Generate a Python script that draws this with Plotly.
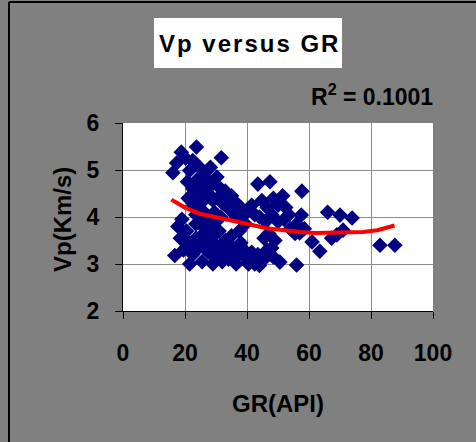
import plotly.graph_objects as go

# ---- data ----
gr = [16.1, 17.3, 18.8, 20.2, 21.5, 23.7, 22.5, 24.8, 26.5, 28.2, 31.7, 20.8, 22.5, 24.0, 25.5, 27.0,
      28.8, 30.3, 31.5, 33.0, 21.0, 22.8, 24.2, 26.0, 27.5, 29.0, 30.5, 32.0, 33.5, 35.0, 36.5, 38.0,
      34.5, 23.5, 25.5, 27.5, 29.5, 31.5, 36.0, 38.5, 40.0, 41.5, 42.5, 39.5,
      43.5, 47.4, 44.8, 46.5, 48.5, 51.5, 50.0, 52.5, 44.0, 46.0, 48.0, 50.0, 52.0, 53.5, 57.7, 57.5,
      56.0, 54.0, 57.0, 58.5, 55.5, 47.0, 49.0, 48.0, 45.5,
      66.0, 70.0, 73.9, 71.0, 67.3, 69.0, 61.0, 63.5, 82.9, 87.7,
      16.7, 17.7, 18.5, 19.5, 20.5, 21.5, 21.5, 22.5, 23.5, 23.5, 24.5, 25.5, 26.0, 26.5, 27.5, 28.5,
      28.5, 29.0, 29.5, 30.0, 31.0, 31.5, 32.0, 33.0, 33.5, 34.0, 35.0, 35.5, 36.5, 37.0, 37.5, 38.0,
      39.0, 40.0, 40.5, 41.5, 42.5, 43.5, 44.0, 45.5, 46.5, 48.5, 50.6, 56.0, 19.0, 25.0, 30.0]
vp = [4.94, 5.15, 5.38, 5.25, 4.99, 5.49, 5.20, 5.05, 4.95, 5.06, 5.26, 4.75, 4.60, 4.80, 4.65, 4.80,
      4.70, 4.85, 4.60, 4.55, 4.40, 4.25, 4.45, 4.35, 4.50, 4.35, 4.40, 4.30, 4.35, 4.45, 4.30, 4.20,
      4.15, 4.05, 4.15, 4.00, 4.10, 4.00, 4.05, 4.00, 4.15, 4.25, 4.05, 3.85,
      4.70, 4.75, 4.35, 4.20, 4.40, 4.45, 4.25, 4.20, 4.00, 3.90, 4.05, 3.90, 3.95, 4.05, 4.55, 4.04,
      3.85, 3.75, 3.66, 3.75, 3.65, 3.65, 3.50, 3.34, 3.55,
      4.10, 4.04, 3.98, 3.72, 3.55, 3.62, 3.47, 3.27, 3.40, 3.40,
      3.18, 3.80, 3.55, 3.30, 3.70, 3.45, 3.00, 3.20, 3.85, 3.55, 3.35, 3.05, 3.65, 3.45, 3.25, 3.80,
      3.55, 3.00, 3.15, 3.40, 3.70, 3.25, 3.05, 3.50, 3.30, 3.10, 3.60, 3.35, 3.00, 3.20, 3.70, 3.45,
      3.30, 3.10, 3.00, 3.25, 3.00, 3.20, 2.97, 3.10, 3.30, 3.15, 3.04, 2.98, 3.95, 3.85, 3.90]

trend_x = [15.6, 20.0, 24.7, 30.0, 35.5, 41.0, 46.2, 52.0, 57.0, 62.0, 67.7, 72.0, 77.4, 82.0, 87.6]
trend_y = [4.37, 4.20, 4.07, 4.00, 3.93, 3.84, 3.76, 3.71, 3.68, 3.66, 3.66, 3.66, 3.68, 3.72, 3.82]

x_ticks = [0, 20, 40, 60, 80, 100]
y_ticks = [2, 3, 4, 5, 6]

FONT = "Liberation Sans, Arial, sans-serif"

fig = go.Figure()
fig.add_trace(go.Scatter(x=gr, y=vp, mode="markers",
                         marker=dict(symbol="diamond", size=12, color="#000080",
                                     line=dict(width=0)),
                         showlegend=False))
fig.add_trace(go.Scatter(x=trend_x, y=trend_y, mode="lines",
                         line=dict(color="#ff0000", width=4),
                         showlegend=False))

L, R, T, B = 123, 43, 123, 131
PW, PH = 476 - L - R, 442 - T - B

def px(xp):
    return (xp - L) / PW

def py(yp):
    return (442 - B - yp) / PH

fig.update_layout(
    width=476, height=442,
    margin=dict(l=L, r=R, t=T, b=B),
    paper_bgcolor="#808080", plot_bgcolor="#ffffff",
    font=dict(family=FONT, color="#000000"),
    xaxis=dict(range=[0, 100], tickvals=x_ticks, ticktext=[f"<b>{v}</b>" for v in x_ticks],
               showgrid=True, gridcolor="#8c8c8c", gridwidth=1,
               showline=True, linecolor="#000000", linewidth=1, ticks="outside", ticklen=7,
               tickcolor="#000000", zeroline=False,
               tickfont=dict(size=23, family=FONT, color="#000000"), ticklabelstandoff=14),
    yaxis=dict(range=[2, 6], tickvals=y_ticks, ticktext=[f"<b>{v}</b>" for v in y_ticks],
               showgrid=True, gridcolor="#8c8c8c", gridwidth=1,
               showline=True, linecolor="#000000", linewidth=1, ticks="outside", ticklen=7,
               tickcolor="#000000", zeroline=False,
               tickfont=dict(size=23, family=FONT, color="#000000"), ticklabelstandoff=11),
    shapes=[
        dict(type="line", xref="paper", yref="paper", x0=px(9), x1=px(9), y0=py(442), y1=py(2),
             line=dict(color="#000000", width=2)),
        dict(type="line", xref="paper", yref="paper", x0=px(9), x1=px(476), y0=py(2), y1=py(2),
             line=dict(color="#000000", width=2)),
        dict(type="rect", xref="paper", yref="paper", x0=px(154), x1=px(342), y0=py(68), y1=py(18),
             fillcolor="#ffffff", line=dict(width=0), layer="above"),
    ],
    annotations=[
        dict(text="<b>V\u200ap\u200a \u200av\u200ae\u200ar\u200as\u200au\u200as\u200a \u200aG\u200aR</b>",
             xref="paper", yref="paper", x=px(248), y=py(43), xanchor="center", yanchor="middle",
             showarrow=False, font=dict(size=24, family=FONT, color="#000000")),
        dict(text="<b>R<sup>2</sup> = 0.1001</b>", xref="paper", yref="paper",
             x=px(372), y=py(95), xanchor="center", yanchor="middle", showarrow=False,
             font=dict(size=23, family=FONT, color="#000000")),
        dict(text="<b>GR(API)</b>", xref="paper", yref="paper", x=px(278), y=py(403),
             xanchor="center", yanchor="middle",
             showarrow=False, font=dict(size=24, family=FONT, color="#000000")),
        dict(text="<b>Vp(Km/s)</b>", xref="paper", yref="paper", x=px(62), y=py(220),
             xanchor="center", yanchor="middle",
             showarrow=False, textangle=-90, font=dict(size=24, family=FONT, color="#000000")),
    ],
)

fig.write_html("out.html")
